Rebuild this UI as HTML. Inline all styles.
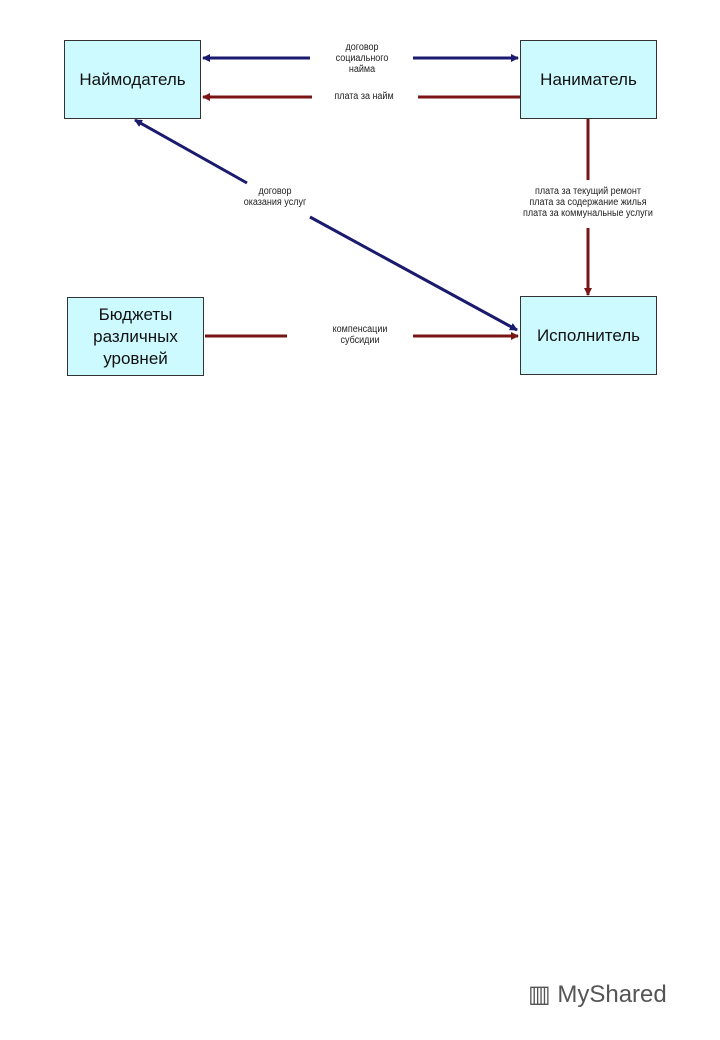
<!DOCTYPE html><html><head><meta charset="utf-8"><style>
body{margin:0;background:#fff;width:720px;height:1040px;position:relative;font-family:"Liberation Sans",sans-serif;overflow:hidden}
.b{position:absolute;background:#ccfaff;border:1px solid #333;box-sizing:border-box;display:flex;align-items:center;justify-content:center;text-align:center;font-size:17px;color:#111;line-height:22px}
.t{position:absolute;font-size:10px;color:#222;text-align:center;line-height:11px;transform:scaleX(.9)}
</style></head><body>
<svg width="720" height="1040" style="position:absolute;left:0;top:0">
<defs>
<marker id="ab" markerWidth="8" markerHeight="8" refX="7" refY="4" orient="auto" markerUnits="userSpaceOnUse"><path d="M0,0 L8,4 L0,8z" fill="#1a1a6e"/></marker>
<marker id="ar" markerWidth="8" markerHeight="8" refX="7" refY="4" orient="auto" markerUnits="userSpaceOnUse"><path d="M0,0 L8,4 L0,8z" fill="#7a1515"/></marker>
</defs>
<g stroke-width="3" fill="none">
<line x1="310" y1="58" x2="203" y2="58" stroke="#1a1a6e" marker-end="url(#ab)"/>
<line x1="413" y1="58" x2="518" y2="58" stroke="#1a1a6e" marker-end="url(#ab)"/>
<line x1="312" y1="97" x2="203" y2="97" stroke="#7a1515" marker-end="url(#ar)"/>
<line x1="418" y1="97" x2="520" y2="97" stroke="#7a1515"/>
<line x1="247" y1="183" x2="135" y2="120" stroke="#1a1a6e" marker-end="url(#ab)"/>
<line x1="310" y1="217" x2="517" y2="330" stroke="#1a1a6e" marker-end="url(#ab)"/>
<line x1="588" y1="118" x2="588" y2="180" stroke="#7a1515"/>
<line x1="588" y1="228" x2="588" y2="295" stroke="#7a1515" marker-end="url(#ar)"/>
<line x1="205" y1="336" x2="287" y2="336" stroke="#7a1515"/>
<line x1="413" y1="336" x2="518" y2="336" stroke="#7a1515" marker-end="url(#ar)"/>
</g></svg>
<div class="b" style="left:64px;top:40px;width:137px;height:79px">Наймодатель</div>
<div class="b" style="left:520px;top:40px;width:137px;height:79px">Наниматель</div>
<div class="b" style="left:67px;top:297px;width:137px;height:79px">Бюджеты<br>различных<br>уровней</div>
<div class="b" style="left:520px;top:296px;width:137px;height:79px">Исполнитель</div>
<div class="t" style="left:310px;top:42px;width:104px">договор<br>социального<br>найма</div>
<div class="t" style="left:310px;top:91px;width:108px">плата за найм</div>
<div class="t" style="left:220px;top:186px;width:110px">договор<br>оказания услуг</div>
<div class="t" style="left:500px;top:186px;width:176px">плата за текущий ремонт<br>плата за содержание жилья<br>плата за коммунальные услуги</div>
<div class="t" style="left:300px;top:324px;width:120px">компенсации<br>субсидии</div>
<div style="position:absolute;left:528px;top:980px;font-size:24px;color:#555">▥ MyShared</div>
</body></html>
